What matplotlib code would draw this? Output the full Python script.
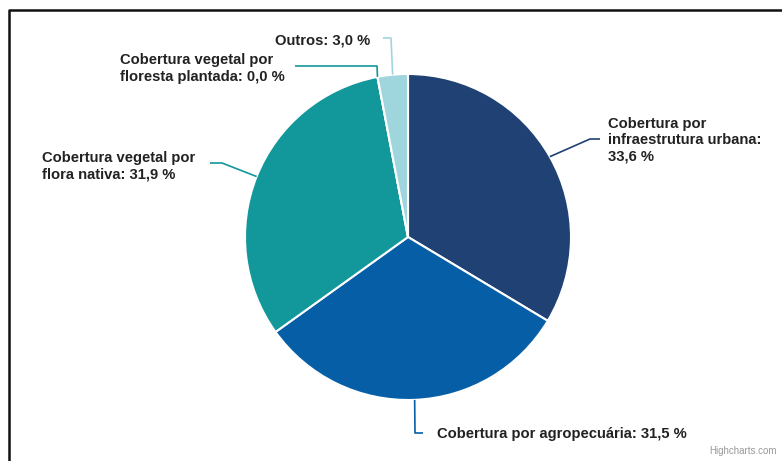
import numpy as np
import matplotlib
matplotlib.use('Agg')
import matplotlib.pyplot as plt
from matplotlib.lines import Line2D

# ---- data ----
names = ['Cobertura por\ninfraestrutura urbana:', 'Cobertura por agropecuária:',
         'Cobertura vegetal por\nflora nativa:', 'Cobertura vegetal por\nfloresta plantada:',
         'Outros:']
values = [33.6, 31.5, 31.9, 0.0, 3.0]
separators = ['\n', ' ', ' ', ' ', ' ']
colors = ['#1f4174', '#065fa6', '#12979a', '#0d7d7f', '#9fd6dd']

W, H = 782, 461
fig = plt.figure(figsize=(W / 100, H / 100), dpi=100)
ax = fig.add_axes([0, 0, 1, 1])

def P(x, y):
    return (x, H - y)

cx, cy = P(408, 237)
R = 163

wedges, _ = ax.pie(values, colors=colors, startangle=90, counterclock=False,
                   center=(cx, cy), radius=R,
                   wedgeprops=dict(edgecolor='white', linewidth=1.5))
ax.set_xlim(0, W)
ax.set_ylim(0, H)
ax.set_aspect('equal')
ax.axis('off')

# label layout (pixel coords, top-left origin)
text_pos = [(608, 140), (437, 434), (42, 166), (120, 68.5), (275, 40)]
conn_pts = [[(590, 139), (600, 139)],
            [(415, 433), (423, 433)],
            [(222, 163), (210, 163)],
            [(377, 66), (295, 66)],
            [(391, 38), (383, 38)]]

total = sum(values)
cum = 0.0
for i, v in enumerate(values):
    mid = 90 - 360 * (cum + v / 2) / total
    cum += v
    t = np.deg2rad(mid)
    ex, ey = cx + R * np.cos(t), cy + R * np.sin(t)
    xs = [ex] + [P(*p)[0] for p in conn_pts[i]]
    ys = [ey] + [P(*p)[1] for p in conn_pts[i]]
    ax.add_line(Line2D(xs, ys, color=colors[i] if i != 3 else colors[2],
                       linewidth=1.2, solid_capstyle='butt'))
    txt = f"{names[i]}{separators[i]}{v:.1f}".replace('.', ',') + ' %'
    tx, ty = P(*text_pos[i])
    ax.text(tx, ty, txt, ha='left', va='center', multialignment='left',
            fontsize=10.6, fontweight='bold', color='#222222',
            family=['Liberation Sans', 'DejaVu Sans'], linespacing=1.2)

# credits
ax.text(*P(777, 451), 'Highcharts.com', ha='right', va='center', fontsize=7,
        color='#999999', family=['Liberation Sans', 'DejaVu Sans'])

# frame (top and left edges visible)
fig.add_artist(Line2D([8.5 / W, 8.5 / W, 1.0], [0.0, 1 - 10 / H, 1 - 10 / H],
                      transform=fig.transFigure, color='#111111', linewidth=1.8))

fig.savefig('out.png', dpi=100)
